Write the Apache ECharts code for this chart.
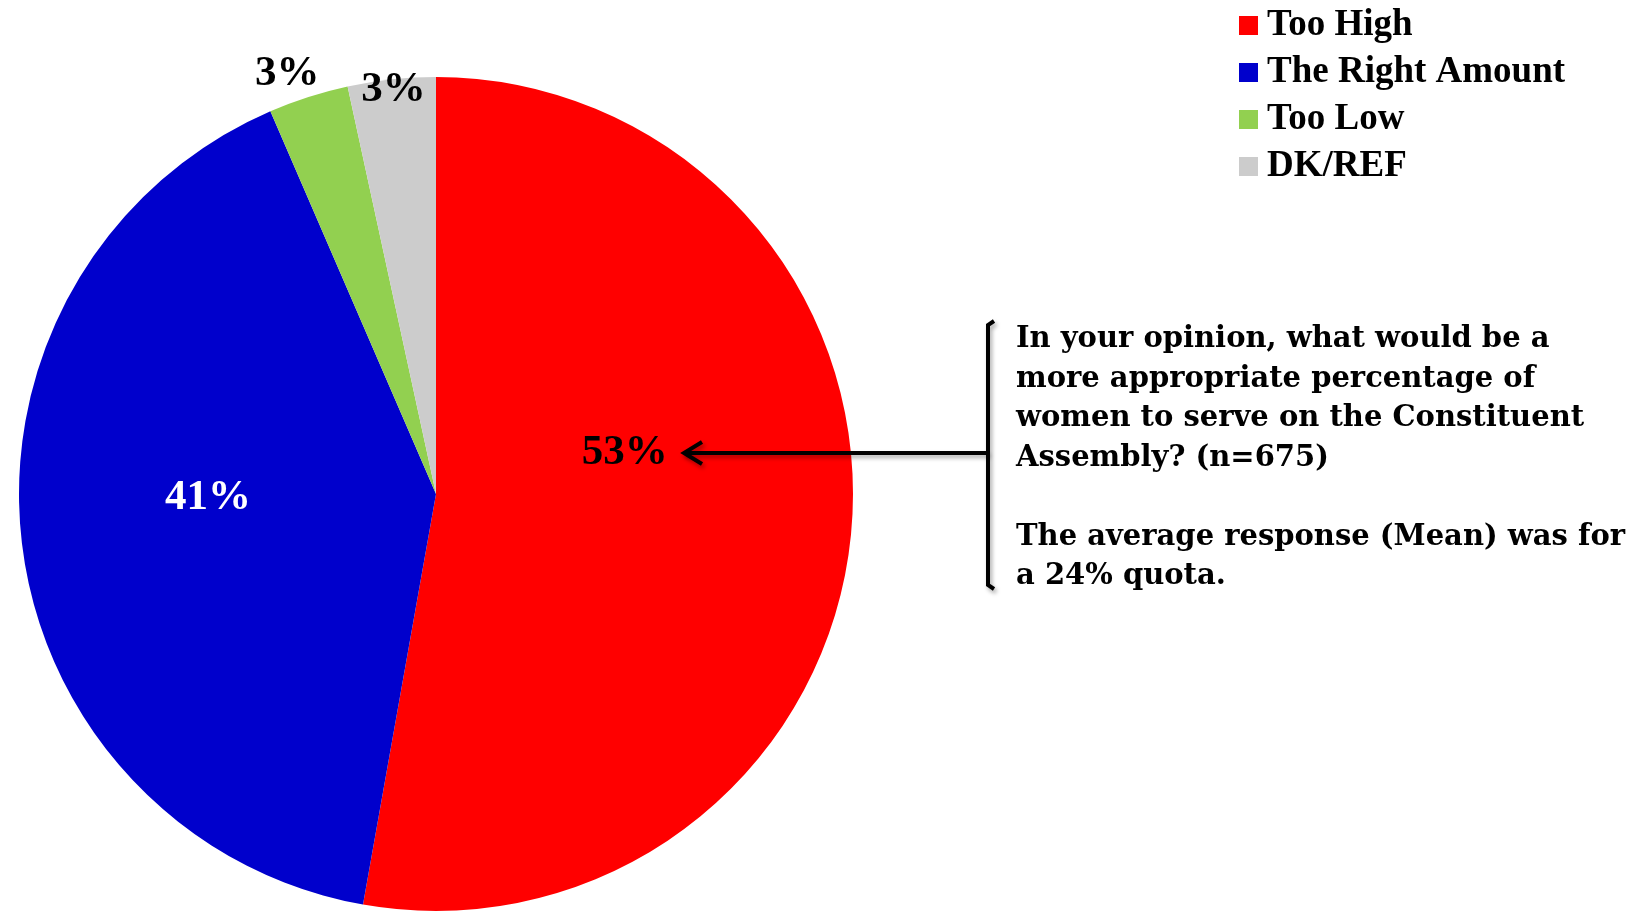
<!DOCTYPE html>
<html>
<head>
<meta charset="utf-8">
<script src="https://cdn.jsdelivr.net/npm/echarts@6/dist/echarts.min.js"></script>
<style>
  html, body { margin: 0; padding: 0; background: #fff; }
  #chart { width: 1642px; height: 915px; }
</style>
</head>
<body>
<div id="chart"></div>
<script>
// answers and shares (percent)
var categories = ['Too High', 'The Right Amount', 'Too Low', 'DK/REF'];
var shares = [52.8, 40.7, 3.1, 3.4];
var colors = ['#ff0000', '#0000cc', '#92d050', '#cccccc'];
var labelColors = ['#000', '#fff', '#000', '#000'];
// label nudges away from the default inside spot
var labelShift = [[-22, -60], [-18, -21], [-84, -219], [-20, -194]];

var noteLines = [
  'In your opinion, what would be a',
  'more appropriate percentage of',
  'women to serve on the Constituent',
  'Assembly? (n=675)',
  '',
  'The average response (Mean) was for',
  'a 24% quota.'
];

(function () {
  var myChart = echarts.init(document.getElementById('chart'));
  var font = '"Liberation Serif", "Times New Roman", serif';
  var noteFont = '"DejaVu Serif", serif';

  var option = {
    backgroundColor: '#fff',
    animation: false,
    legend: {
      orient: 'vertical',
      left: 1234,
      top: 2,
      itemWidth: 19,
      itemHeight: 19,
      itemGap: 10,
      icon: 'rect',
      textStyle: {
        color: '#000',
        fontFamily: font,
        fontWeight: 'bold',
        fontSize: 37,
        padding: [0, 0, 0, 4]
      },
      data: categories
    },
    series: [
      {
        type: 'pie',
        center: [436, 494],
        radius: 417,
        startAngle: 90,
        clockwise: true,
        label: {
          show: true,
          position: 'inside',
          fontFamily: font,
          fontWeight: 'bold',
          fontSize: 43,
          formatter: function (p) { return Math.round(p.value) + '%'; }
        },
        labelLine: { show: false },
        labelLayout: function (p) {
          var s = labelShift[p.dataIndex];
          return { dx: s[0], dy: s[1] };
        },
        emphasis: { disabled: true },
        data: categories.map(function (c, i) {
          return {
            name: c,
            value: shares[i],
            itemStyle: { color: colors[i] },
            label: { color: labelColors[i] }
          };
        })
      }
    ],
    graphic: [
      {
        type: 'polyline',
        shape: { points: [[994, 321], [988, 325], [988, 585], [994, 589]] },
        style: { stroke: '#000', lineWidth: 4, fill: null,
          shadowBlur: 4, shadowOffsetX: 2, shadowOffsetY: 3, shadowColor: 'rgba(0,0,0,0.35)' },
        z: 10
      },
      {
        type: 'line',
        shape: { x1: 988, y1: 453, x2: 684, y2: 453 },
        style: { stroke: '#000', lineWidth: 4,
          shadowBlur: 4, shadowOffsetX: 2, shadowOffsetY: 3, shadowColor: 'rgba(0,0,0,0.35)' },
        z: 10
      },
      {
        type: 'polyline',
        shape: { points: [[702, 442], [684, 453], [702, 464]] },
        style: { stroke: '#000', lineWidth: 4, fill: null, lineJoin: 'miter',
          shadowBlur: 4, shadowOffsetX: 2, shadowOffsetY: 3, shadowColor: 'rgba(0,0,0,0.35)' },
        z: 10
      },
      {
        type: 'text',
        left: 1016,
        top: 320,
        z: 10,
        style: {
          text: noteLines.join('\n'),
          fill: '#000',
          font: 'bold 29px ' + noteFont,
          lineHeight: 39.5
        }
      }
    ]
  };

  myChart.setOption(option);
  window.addEventListener('resize', function () {
    myChart.resize();
  });
})();
</script>
</body>
</html>
